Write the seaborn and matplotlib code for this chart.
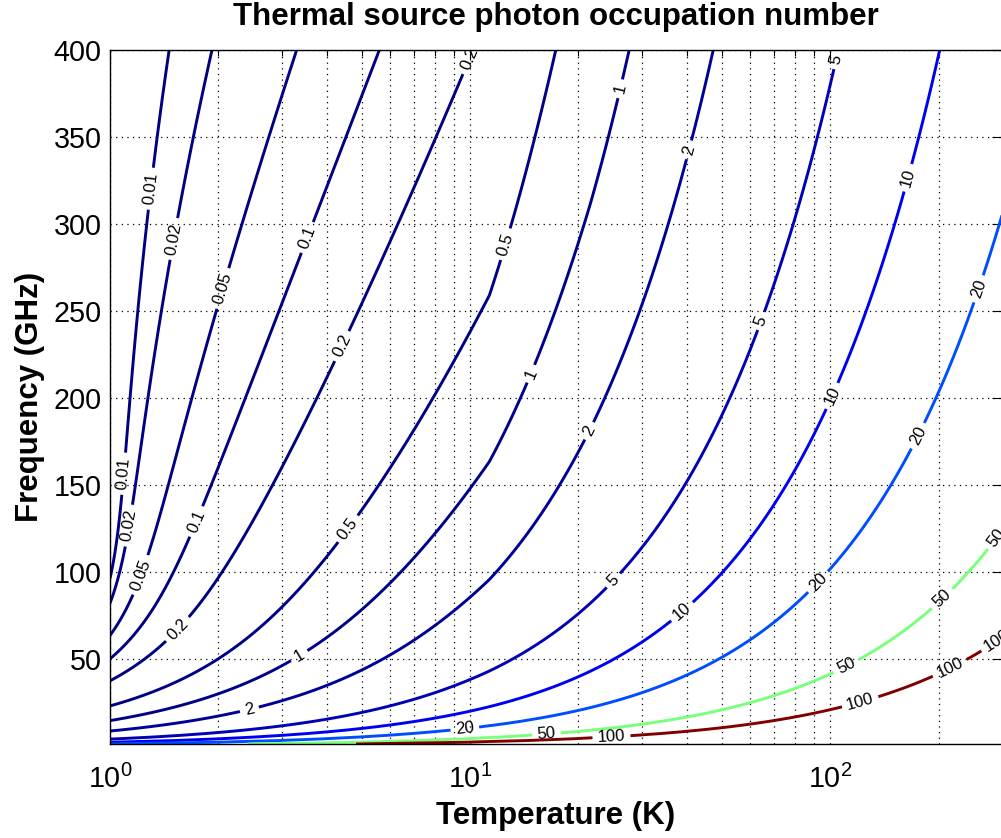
import numpy as np
import matplotlib
matplotlib.use("Agg")
import matplotlib.pyplot as plt
from matplotlib.colors import Normalize
from matplotlib.ticker import MultipleLocator, LogLocator
import seaborn as sns

# Sampling grids of the source temperature (K) and photon frequency (GHz)
temperature_k = np.linspace(1, 300, 30)
frequency_ghz = np.arange(1, 401, 1.0)

# Contour levels of the mean photon occupation number
occupation_levels = [0.01, 0.02, 0.05, 0.1, 0.2, 0.5, 1, 2, 5, 10, 20, 50, 100]

# Anchor points (T in K, f in GHz) for the inline labels of each level
label_anchors = {
    0.01: [(1.33, 320), (1.15, 156)],
    0.02: [(1.54, 291), (1.17, 126)],
    0.05: [(2.13, 262), (1.26, 97)],
    0.1: [(3.66, 291), (1.78, 128)],
    0.2: [(4.59, 228), (10.2, 394), (1.54, 67)],
    0.5: [(12.7, 288), (4.7, 123)],
    1: [(27.0, 377), (15.1, 213), (3.37, 51)],
    2: [(41.5, 342), (21.9, 180), (2.45, 19)],
    5: [(106, 394), (66.7, 243), (25.6, 93)],
    10: [(168, 326), (104, 200), (39.6, 75)],
    20: [(264, 262), (180, 177), (95, 92), (9.7, 6.6)],
    50: [(292, 119), (208, 83), (112, 44), (16.3, 4)],
    100: [(292, 60), (218, 42), (122, 23), (24.7, 3)],
}

H_OVER_K = 0.0479924  # Planck / Boltzmann, in K per GHz

# Bose-Einstein occupation n = 1 / (exp(hf/kT) - 1) on the grid
TT, FF = np.meshgrid(temperature_k, frequency_ghz)
occupation = 1.0 / np.expm1(H_OVER_K * FF / TT)

sns.set_style("white")
plt.rcParams["font.family"] = ["Liberation Sans", "DejaVu Sans"]
plt.rcParams["mathtext.default"] = "regular"
plt.rcParams["text.color"] = "black"
plt.rcParams["axes.labelcolor"] = "black"
plt.rcParams["xtick.color"] = "black"
plt.rcParams["ytick.color"] = "black"

fig = plt.figure(figsize=(10.01, 8.38), dpi=100)
ax = fig.add_axes([110 / 1001, 94 / 838, 892 / 1001, 694 / 838])
ax.set_xscale("log")
ax.set_xlim(1, 300)
ax.set_ylim(1, 400)

# One contour set per level so each label lands on its own curve
jet = matplotlib.colormaps["jet"]
norm = Normalize(min(occupation_levels), max(occupation_levels))
for level in occupation_levels:
    cs = ax.contour(TT, FF, occupation, levels=[level],
                    colors=[jet(norm(level))], linewidths=2.1)
    ax.clabel(cs, manual=label_anchors[level], inline=True,
              inline_spacing=5, fontsize=12, colors="k",
              fmt=lambda v: f"{v:g}")

# Axes decoration
ax.yaxis.set_major_locator(MultipleLocator(50))
ax.xaxis.set_major_locator(LogLocator(base=10))
ax.xaxis.set_minor_locator(LogLocator(base=10, subs=np.arange(2, 10)))
dots = dict(color="k", linestyle=(0, (1, 3.5)), linewidth=0.9)
ax.grid(which="major", axis="both", **dots)
ax.grid(which="minor", axis="x", **dots)
ax.set_axisbelow(True)

for side in ax.spines.values():
    side.set_color("k")
    side.set_linewidth(1.0)

ax.tick_params(which="both", direction="in", top=True, right=True, color="k")
ax.tick_params(which="major", length=7, width=0.8, labelsize=20.7, pad=6)
ax.tick_params(which="minor", length=4, width=0.8)
ax.tick_params(axis="x", which="major", pad=15)

ax.set_xlabel("Temperature (K)", fontsize=22.5, fontweight="bold", labelpad=5)
ax.set_ylabel("Frequency (GHz)", fontsize=22.5, fontweight="bold", labelpad=6)
ax.set_title("Thermal source photon occupation number",
             fontsize=22.5, fontweight="bold", pad=18)

fig.savefig("out.png", dpi=100)
